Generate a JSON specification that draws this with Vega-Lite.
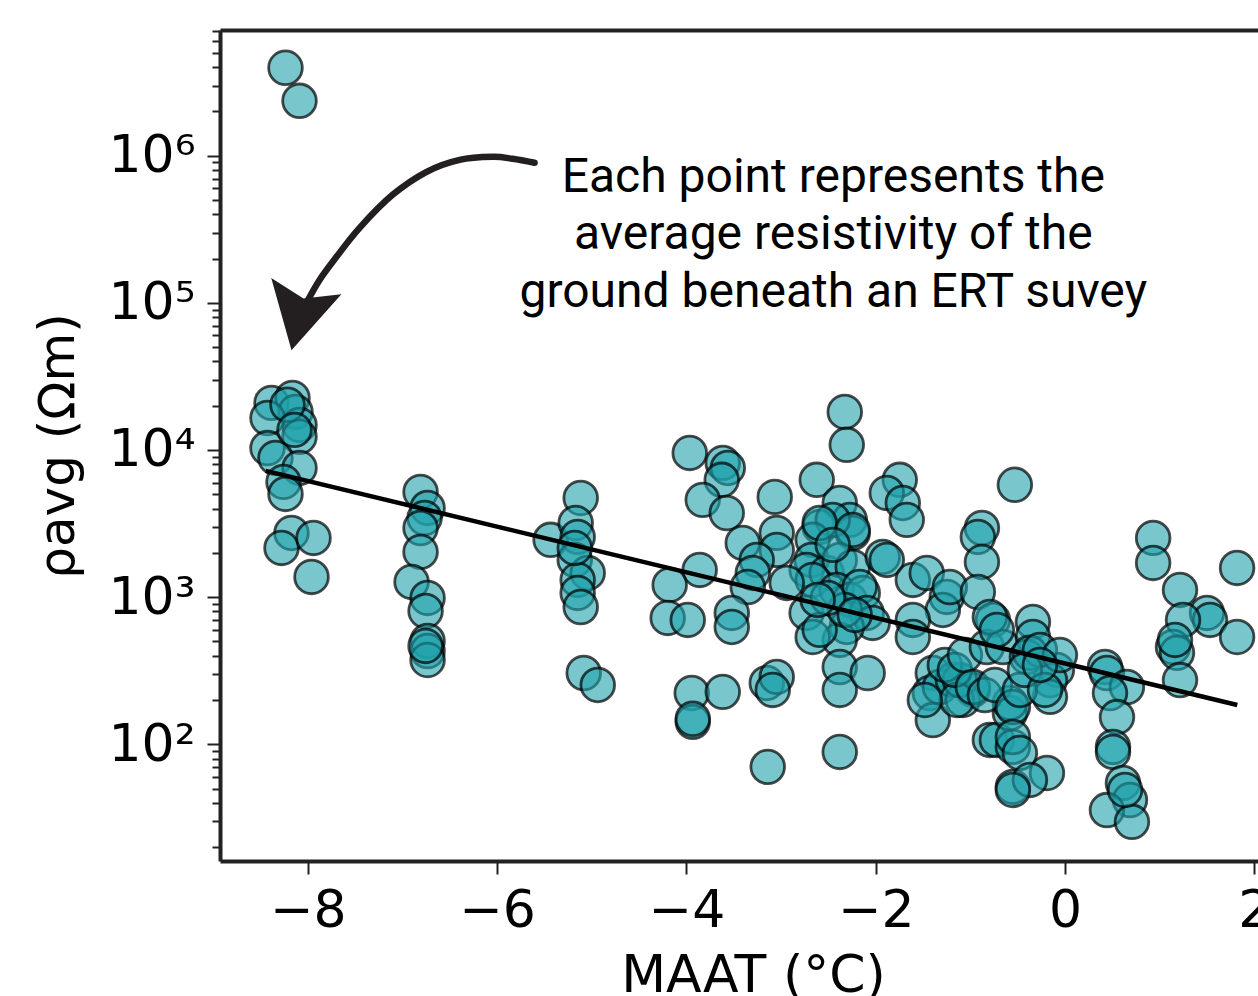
{
  "$schema": "https://vega.github.io/schema/vega-lite/v6.json",
  "width": 1038,
  "height": 831,
  "autosize": {"type": "none"},
  "padding": {"left": 220, "top": 30, "right": 0, "bottom": 135},
  "background": "white",
  "config": {
    "view": {"stroke": null},
    "axis": {"grid": false, "domainColor": "#222", "domainWidth": 4, "tickColor": "#222", "tickWidth": 2,
      "labelFont": "DejaVu Sans", "labelFontSize": 52, "labelColor": "black",
      "titleFont": "DejaVu Sans", "titleFontSize": 52, "titleFontWeight": "normal", "titleColor": "black"}
  },
  "datasets": {
    "pts": [
      {"maat": -8.236, "rho": 3960000}, {"maat": -8.088, "rho": 2360000}, {"maat": -8.384, "rho": 20900}, {"maat": -8.162, "rho": 22600},
      {"maat": -8.130, "rho": 18150}, {"maat": -8.088, "rho": 14800}, {"maat": -8.088, "rho": 12300}, {"maat": -8.426, "rho": 16500},
      {"maat": -8.426, "rho": 10300}, {"maat": -8.342, "rho": 8830}, {"maat": -8.088, "rho": 7550}, {"maat": -8.257, "rho": 6070},
      {"maat": -8.236, "rho": 5030}, {"maat": -8.173, "rho": 2730}, {"maat": -8.278, "rho": 2160}, {"maat": -7.940, "rho": 2525},
      {"maat": -7.961, "rho": 1372}, {"maat": -8.215, "rho": 20300}, {"maat": -8.141, "rho": 13700},
      {"maat": -6.809, "rho": 5190}, {"maat": -6.735, "rho": 4040}, {"maat": -6.767, "rho": 3450}, {"maat": -6.809, "rho": 2950},
      {"maat": -6.809, "rho": 2030}, {"maat": -6.904, "rho": 1268}, {"maat": -6.735, "rho": 988}, {"maat": -6.756, "rho": 805},
      {"maat": -6.735, "rho": 504}, {"maat": -6.735, "rho": 430}, {"maat": -6.735, "rho": 374}, {"maat": -6.756, "rho": 466},
      {"maat": -5.117, "rho": 4720}, {"maat": -5.435, "rho": 2450}, {"maat": -5.170, "rho": 3190}, {"maat": -5.149, "rho": 2565},
      {"maat": -5.180, "rho": 1790}, {"maat": -5.043, "rho": 1460}, {"maat": -5.149, "rho": 1309}, {"maat": -5.149, "rho": 1068},
      {"maat": -5.117, "rho": 857}, {"maat": -5.085, "rho": 305}, {"maat": -4.937, "rho": 253}, {"maat": -5.180, "rho": 2160},
      {"maat": -3.965, "rho": 9550}, {"maat": -3.616, "rho": 8170}, {"maat": -3.563, "rho": 7550}, {"maat": -3.627, "rho": 6270},
      {"maat": -3.828, "rho": 4580}, {"maat": -3.574, "rho": 3730}, {"maat": -3.067, "rho": 4800}, {"maat": -3.405, "rho": 2335},
      {"maat": -3.046, "rho": 2733}, {"maat": -3.046, "rho": 2094}, {"maat": -3.257, "rho": 1790}, {"maat": -3.299, "rho": 1460},
      {"maat": -3.352, "rho": 1172}, {"maat": -3.860, "rho": 1531}, {"maat": -4.177, "rho": 1211}, {"maat": -4.198, "rho": 722},
      {"maat": -3.986, "rho": 700}, {"maat": -3.521, "rho": 781}, {"maat": -3.521, "rho": 627}, {"maat": -3.944, "rho": 223},
      {"maat": -3.616, "rho": 227}, {"maat": -3.933, "rho": 142}, {"maat": -3.933, "rho": 149}, {"maat": -3.151, "rho": 261},
      {"maat": -3.046, "rho": 287}, {"maat": -3.088, "rho": 234}, {"maat": -3.141, "rho": 70.2},
      {"maat": -2.327, "rho": 18150}, {"maat": -2.306, "rho": 10840}, {"maat": -2.623, "rho": 6270}, {"maat": -2.380, "rho": 4365},
      {"maat": -2.274, "rho": 3350}, {"maat": -2.243, "rho": 2733}, {"maat": -2.592, "rho": 3000}, {"maat": -2.454, "rho": 3350},
      {"maat": -2.666, "rho": 2450}, {"maat": -2.677, "rho": 1790}, {"maat": -2.730, "rho": 1531}, {"maat": -2.518, "rho": 1460},
      {"maat": -2.380, "rho": 1790}, {"maat": -2.243, "rho": 1603}, {"maat": -2.666, "rho": 1309}, {"maat": -2.412, "rho": 1119},
      {"maat": -2.274, "rho": 957}, {"maat": -2.137, "rho": 1068}, {"maat": -2.169, "rho": 1172}, {"maat": -2.940, "rho": 1249},
      {"maat": -2.730, "rho": 781}, {"maat": -2.095, "rho": 781}, {"maat": -2.032, "rho": 668}, {"maat": -2.306, "rho": 627},
      {"maat": -2.380, "rho": 512}, {"maat": -2.666, "rho": 536}, {"maat": -2.592, "rho": 599}, {"maat": -2.380, "rho": 335},
      {"maat": -2.380, "rho": 234}, {"maat": -2.085, "rho": 305}, {"maat": -2.380, "rho": 88.7}, {"maat": -1.926, "rho": 1875},
      {"maat": -1.883, "rho": 1790}, {"maat": -1.746, "rho": 6270}, {"maat": -1.883, "rho": 5110}, {"maat": -1.714, "rho": 4365},
      {"maat": -1.672, "rho": 3350}, {"maat": -2.592, "rho": 3190}, {"maat": -2.243, "rho": 2865}, {"maat": -2.454, "rho": 2265},
      {"maat": -2.327, "rho": 818}, {"maat": -2.506, "rho": 988}, {"maat": -2.222, "rho": 757}, {"maat": -2.613, "rho": 957},
      {"maat": -1.608, "rho": 1309}, {"maat": -1.461, "rho": 1460}, {"maat": -1.249, "rho": 1003}, {"maat": -1.291, "rho": 818},
      {"maat": -1.217, "rho": 1172}, {"maat": -1.608, "rho": 700}, {"maat": -1.608, "rho": 536}, {"maat": -1.397, "rho": 305},
      {"maat": -1.428, "rho": 223}, {"maat": -1.322, "rho": 245}, {"maat": -1.185, "rho": 273}, {"maat": -1.397, "rho": 146},
      {"maat": -0.974, "rho": 234}, {"maat": -1.080, "rho": 200}, {"maat": -1.111, "rho": 273}, {"maat": -1.143, "rho": 200},
      {"maat": -1.270, "rho": 346}, {"maat": -1.164, "rho": 320}, {"maat": -1.058, "rho": 404}, {"maat": -1.481, "rho": 200},
      {"maat": -0.878, "rho": 2950}, {"maat": -0.921, "rho": 2565}, {"maat": -0.878, "rho": 1734}, {"maat": -0.921, "rho": 1084},
      {"maat": -0.762, "rho": 700}, {"maat": -0.826, "rho": 458}, {"maat": -0.656, "rho": 458}, {"maat": -0.974, "rho": 245},
      {"maat": -0.794, "rho": 107}, {"maat": -0.720, "rho": 107}, {"maat": -0.551, "rho": 95.9}, {"maat": -0.551, "rho": 51.3},
      {"maat": -0.582, "rho": 163}, {"maat": -0.582, "rho": 191}, {"maat": -0.794, "rho": 733}, {"maat": -0.720, "rho": 599},
      {"maat": -0.847, "rho": 216}, {"maat": -0.741, "rho": 253},
      {"maat": -0.530, "rho": 5800}, {"maat": -0.339, "rho": 678}, {"maat": -0.339, "rho": 536}, {"maat": -0.403, "rho": 392},
      {"maat": -0.371, "rho": 418}, {"maat": -0.086, "rho": 320}, {"maat": -0.159, "rho": 273}, {"maat": -0.159, "rho": 210},
      {"maat": -0.551, "rho": 179}, {"maat": -0.551, "rho": 112}, {"maat": -0.477, "rho": 87.3}, {"maat": -0.191, "rho": 63.8},
      {"maat": -0.371, "rho": 57.2}, {"maat": -0.551, "rho": 48.9}, {"maat": -0.265, "rho": 438}, {"maat": -0.477, "rho": 234},
      {"maat": -0.424, "rho": 320}, {"maat": -0.212, "rho": 234}, {"maat": -0.054, "rho": 404}, {"maat": -0.265, "rho": 346},
      {"maat": 0.422, "rho": 335}, {"maat": 0.443, "rho": 305}, {"maat": 0.654, "rho": 245}, {"maat": 0.475, "rho": 223},
      {"maat": 0.549, "rho": 153}, {"maat": 0.507, "rho": 95.9}, {"maat": 0.507, "rho": 88.7}, {"maat": 0.612, "rho": 54.6},
      {"maat": 0.686, "rho": 41.8}, {"maat": 0.443, "rho": 35.7}, {"maat": 0.707, "rho": 29.7}, {"maat": 0.634, "rho": 48.9},
      {"maat": 0.931, "rho": 2527}, {"maat": 0.931, "rho": 1708}, {"maat": 1.215, "rho": 1119}, {"maat": 1.500, "rho": 781},
      {"maat": 1.532, "rho": 700}, {"maat": 1.247, "rho": 700}, {"maat": 1.141, "rho": 458}, {"maat": 1.183, "rho": 418},
      {"maat": 1.215, "rho": 273}, {"maat": 1.818, "rho": 1579}, {"maat": 1.818, "rho": 536}, {"maat": 1.162, "rho": 512}
    ],
    "fit": [{"maat": -8.444, "rho": 7211}, {"maat": 1.820, "rho": 184.8}],
    "arrow": [
      {"i": 0, "maat": -5.604, "rho": 895000}, {"i": 1, "maat": -5.836, "rho": 953000}, {"i": 2, "maat": -6.048, "rho": 983000},
      {"i": 3, "maat": -6.396, "rho": 938000}, {"i": 4, "maat": -6.745, "rho": 778000}, {"i": 5, "maat": -7.105, "rho": 542000},
      {"i": 6, "maat": -7.453, "rho": 323600}, {"i": 7, "maat": -7.697, "rho": 205600}, {"i": 8, "maat": -7.876, "rho": 143200},
      {"i": 9, "maat": -8.014, "rho": 100000}
    ],
    "head": [{"maat": -8.093, "rho": 79300}],
    "note": [{"maat": -2.448, "rho": 707700, "label": "Each point represents the\naverage resistivity of the\nground beneath an ERT suvey"}]
  },
  "resolve": {"axis": {"x": "independent"}},
  "layer": [
    {
      "data": {"name": "pts"},
      "mark": {"type": "circle", "size": 1134, "fill": "#1fa2ac", "fillOpacity": 0.6, "stroke": "black", "strokeOpacity": 0.7, "strokeWidth": 2.8, "clip": true},
      "encoding": {
        "x": {"field": "maat", "type": "quantitative", "scale": {"domain": [-8.928, 2.039], "nice": false, "zero": false},
          "axis": {"values": [-8, -6, -4, -2, 0, 2], "tickSize": 13, "labelPadding": 11, "title": "MAAT (°C)", "titleX": 533, "titlePadding": 14, "labelFlush": false, "labelOverlap": false}},
        "y": {"field": "rho", "type": "quantitative", "scale": {"type": "log", "domain": [16.09, 7152000], "nice": false},
          "axis": {
            "values": [20,30,40,50,60,70,80,90,100,200,300,400,500,600,700,800,900,1000,2000,3000,4000,5000,6000,7000,8000,9000,10000,20000,30000,40000,50000,60000,70000,80000,90000,100000,200000,300000,400000,500000,600000,700000,800000,900000,1000000,2000000,3000000,4000000,5000000,6000000,7000000],
            "labelExpr": "abs(log(datum.value)/LN10 - round(log(datum.value)/LN10)) < 0.001 ? '10' + ['⁰','¹','²','³','⁴','⁵','⁶','⁷'][round(log(datum.value)/LN10)] : ''",
            "tickSize": {"condition": {"test": "abs(log(datum.value)/LN10 - round(log(datum.value)/LN10)) < 0.001", "value": 13}, "value": 8},
            "labelPadding": 12, "labelOverlap": false, "labelFlush": false, "labelBound": false,
            "title": "ρavg (Ωm)", "titlePadding": 24, "titleFontSize": 50}}
      }
    },
    {
      "data": {"name": "fit"},
      "mark": {"type": "line", "color": "black", "strokeWidth": 4.5},
      "encoding": {
        "x": {"field": "maat", "type": "quantitative", "axis": {"orient": "top", "labels": false, "ticks": false, "title": null, "domain": true}},
        "y": {"field": "rho", "type": "quantitative", "scale": {"type": "log"}}
      }
    },
    {
      "data": {"name": "arrow"},
      "mark": {"type": "line", "color": "#231f20", "strokeWidth": 6.5, "interpolate": "cardinal", "strokeCap": "round"},
      "encoding": {
        "x": {"field": "maat", "type": "quantitative", "axis": null},
        "y": {"field": "rho", "type": "quantitative", "scale": {"type": "log"}},
        "order": {"field": "i", "type": "quantitative"}
      }
    },
    {
      "data": {"name": "head"},
      "mark": {"type": "point", "shape": "M0,0.93 L-1,-0.9 L0,-0.55 L1,-0.9 Z", "size": 5184, "filled": true, "fill": "#231f20", "fillOpacity": 1, "stroke": null, "angle": 13},
      "encoding": {
        "x": {"field": "maat", "type": "quantitative", "axis": null},
        "y": {"field": "rho", "type": "quantitative", "scale": {"type": "log"}}
      }
    },
    {
      "data": {"name": "note"},
      "mark": {"type": "text", "font": "Roboto", "fontSize": 48, "align": "center", "baseline": "middle", "lineBreak": "\n", "lineHeight": 57.5, "color": "black"},
      "encoding": {
        "x": {"field": "maat", "type": "quantitative", "axis": null},
        "y": {"field": "rho", "type": "quantitative", "scale": {"type": "log"}},
        "text": {"field": "label", "type": "nominal"}
      }
    }
  ]
}
